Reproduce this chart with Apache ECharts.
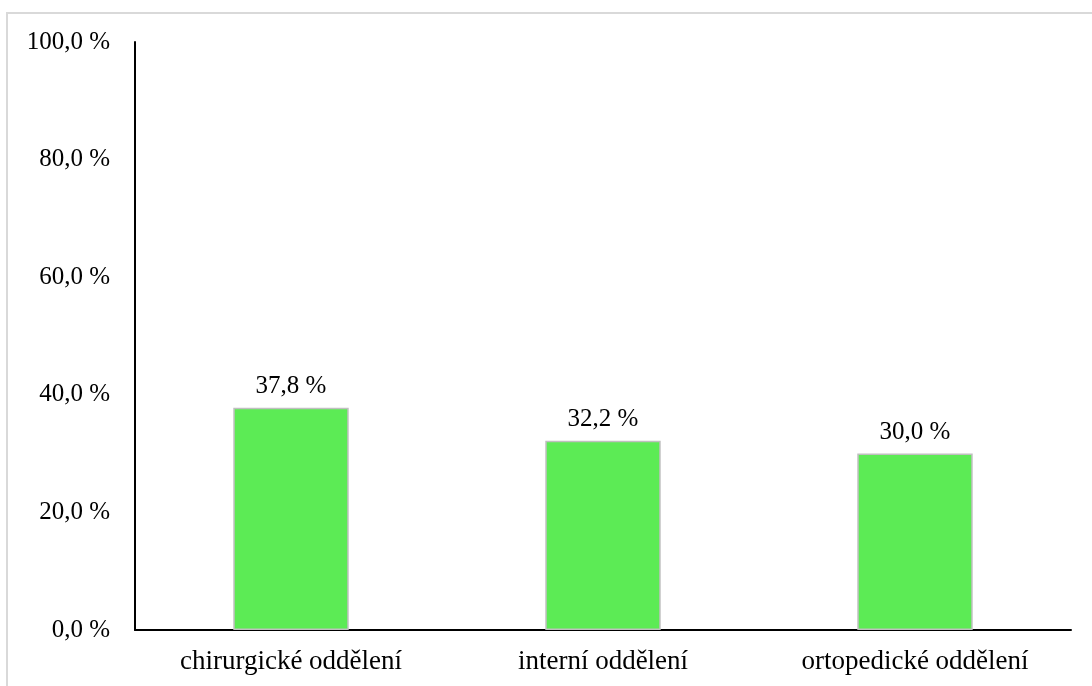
<!DOCTYPE html>
<html>
<head lang="cs">
    <meta charset="UTF-8">
    <title></title>
    <style>
        html, body { margin: 0; padding: 0; background: #fff; }
    </style>
</head>
<body>
<div id="chart" style="width: 1092px;height: 686px;"></div>
<script src="https://cdn.jsdelivr.net/npm/echarts@6/dist/echarts.min.js"></script>
<script>
    // data
    var categories = ['chirurgické oddělení', 'interní oddělení', 'ortopedické oddělení'];
    var values = [37.8, 32.2, 30.0];
    var yTicks = [0, 20, 40, 60, 80, 100];

    function pct(v) {
        return v.toFixed(1).replace('.', ',') + ' %';
    }

    var font = '"Liberation Serif", "Times New Roman", serif';
    var chart = echarts.init(document.getElementById('chart'));

    var option = {
        animation: false,
        backgroundColor: '#fff',
        // outer frame (only left and top visible in the picture)
        graphic: [{
            type: 'rect',
            shape: { x: 7, y: 13, width: 1300, height: 900 },
            style: { fill: 'none', stroke: '#d9d9d9', lineWidth: 2 },
            silent: true
        }],
        grid: {
            left: 135,
            right: 21,
            top: 42,
            bottom: 56,
            containLabel: false
        },
        xAxis: {
            type: 'category',
            data: categories,
            axisLine: { lineStyle: { color: '#000', width: 2 } },
            axisTick: { show: false },
            axisLabel: {
                color: '#000',
                fontFamily: font,
                fontSize: 27,
                margin: 18
            }
        },
        yAxis: {
            type: 'value',
            min: yTicks[0],
            max: yTicks[yTicks.length - 1],
            interval: 20,
            axisLine: { show: true, lineStyle: { color: '#000', width: 2 } },
            axisTick: { show: false },
            splitLine: { show: false },
            axisLabel: {
                color: '#000',
                fontFamily: font,
                fontSize: 25,
                margin: 25,
                formatter: function (v) { return pct(v); }
            }
        },
        series: [{
            type: 'bar',
            data: values,
            barWidth: '37%',
            itemStyle: {
                color: '#5ceb55',
                borderColor: '#bfbfbf',
                borderWidth: 1.5
            },
            label: {
                show: true,
                position: 'top',
                distance: 9,
                color: '#000',
                fontFamily: font,
                fontSize: 25,
                formatter: function (p) { return pct(p.value); }
            }
        }]
    };
    chart.setOption(option);
</script>
</body>
</html>
